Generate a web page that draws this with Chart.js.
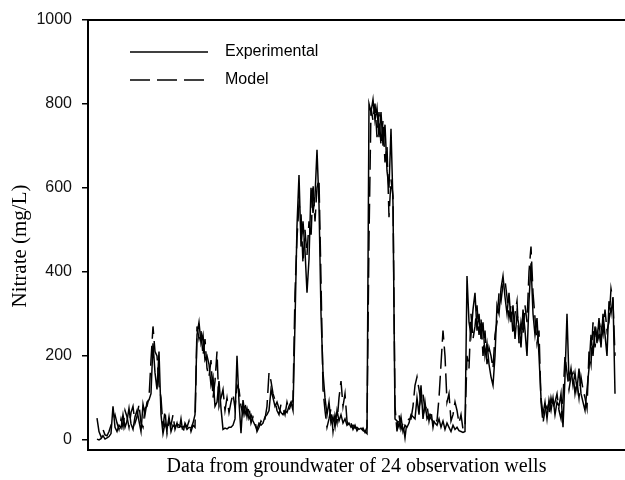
<!DOCTYPE html>
<html>
<head>
<meta charset="utf-8">
<title>Nitrate - experimental vs model</title>
<script src="https://cdn.jsdelivr.net/npm/chart.js@4"></script>
<style>
  html, body { margin: 0; padding: 0; background: #fff; }
  #wrap { width: 625px; height: 480px; }
</style>
</head>
<body>
<div id="wrap"><canvas id="nitrateChart" width="625" height="480"></canvas></div>
<script>
// values, one sample per ~2px across the 24 wells
const experimental = [
    2, 0, 3, 10, 2, 5, 8, 15, 80, 30,
    20, 35, 28, 60, 30, 45, 75, 38, 25, 55,
    70, 45, 20, 85, 60, 90, 95, 110, 230, 160,
    120, 210, 60, 15, 40, 25, 55, 20, 35, 30,
    38, 35, 32, 30, 35, 25, 30, 28, 40, 60,
    250, 280, 230, 250, 190, 200, 180, 130, 150, 80,
    90, 140, 75, 25, 28, 26, 30, 30, 35, 50,
    200, 90, 16, 95, 60, 75, 50, 60, 45, 35,
    25, 40, 35, 40, 55, 60, 70, 120, 100, 80,
    90, 75, 65, 60, 70, 65, 80, 90, 70, 280,
    510, 630, 460, 520, 450, 350, 430, 600, 540, 580,
    690, 560, 300, 160, 100, 60, 90, 40, 55, 30,
    70, 45, 60, 40, 50, 35, 40, 30, 35, 28,
    30, 25, 28, 22, 20, 15, 800, 780, 810, 760,
    790, 720, 780, 700, 750, 640, 600, 740, 560, 50,
    45, 30, 55, 20, 35, 30, 40, 60, 55, 50,
    100, 60, 130, 50, 90, 50, 60, 50, 45, 40,
    35, 50, 30, 45, 25, 40, 30, 20, 35, 25,
    30, 22, 20, 18, 20, 390, 280, 250, 310, 350,
    260, 300, 240, 280, 200, 230, 180, 150, 130, 200,
    320, 300, 360, 390, 340, 300, 350, 280, 320, 240,
    300, 270, 220, 310, 260, 200, 330, 420, 300, 250,
    290, 200, 100, 60, 90, 50, 95, 70, 100, 60,
    90, 80, 110, 30, 150, 300, 140, 170, 130, 160,
    120, 170, 110, 90, 70, 120, 170, 250, 200, 270,
    230, 290, 220, 300, 250, 200, 330, 300, 340, 110
];
const model = [
    52, 20, 8, 25, 12, 10, 20, 35, 45, 60,
    40, 25, 50, 30, 70, 55, 30, 65, 80, 40,
    55, 85, 40, 30, 75, 80, 100, 190, 270, 210,
    200, 130, 100, 30, 70, 15, 45, 35, 60, 25,
    40, 20, 50, 15, 40, 30, 45, 20, 35, 30,
    270, 240, 260, 200, 240, 170, 150, 190, 100, 140,
    210, 80, 100, 120, 70, 100, 65, 90, 110, 75,
    130, 120, 80, 60, 90, 55, 80, 40, 55, 45,
    20, 30, 45, 38, 50, 80, 160, 140, 110, 95,
    70, 60, 85, 75, 60, 90, 70, 85, 95, 350,
    480, 560, 540, 420, 500, 440, 520, 480, 610, 520,
    600, 620, 380, 120, 70, 30, 50, 75, 20, 60,
    40, 100, 140, 80, 110, 45, 30, 40, 25, 35,
    22, 30, 20, 28, 18, 30, 480, 790, 760, 800,
    720, 780, 700, 760, 660, 700, 530, 620, 580, 80,
    20, 60, 25, 40, 5, 45, 50, 50, 80, 130,
    150, 120, 90, 110, 70, 85, 45, 70, 30, 55,
    45, 100, 180, 260, 200, 90, 110, 45, 60, 90,
    70, 40, 60, 25, 30, 200, 170, 300, 240, 270,
    320, 250, 290, 200, 260, 180, 220, 200, 170, 250,
    280, 350, 330, 370, 380, 340, 290, 320, 250, 300,
    330, 230, 280, 250, 320, 280, 400, 460, 350, 290,
    230, 260, 90, 40, 70, 80, 60, 100, 75, 90,
    110, 70, 50, 100, 200, 160, 120, 150, 160, 110,
    140, 100, 150, 120, 100, 75, 210, 180, 280, 220,
    260, 240, 270, 250, 310, 260, 280, 360, 330, 200
];
const yTicks = [0, 200, 400, 600, 800, 1000];
const seriesNames = ['Experimental', 'Model'];
const xTitle = 'Data from groundwater of 24 observation wells';
const yTitle = 'Nitrate (mg/L)';

const serif = "'Liberation Serif', 'Times New Roman', serif";
const sans = "'Liberation Sans', Arial, sans-serif";

function toPoints(values) {
    return values.map((v, i) => ({ x: i + 1, y: v }));
}

// legend drawn inside the plot, top-left, like the original figure
const insideLegend = {
    id: 'insideLegend',
    afterDatasetsDraw(chart) {
        const ctx = chart.ctx;
        const rows = [52, 80];
        chart.data.datasets.forEach((ds, k) => {
            const y = rows[k];
            ctx.save();
            ctx.strokeStyle = ds.borderColor;
            ctx.lineWidth = 1.5;
            ctx.setLineDash(ds.borderDash || []);
            ctx.beginPath();
            ctx.moveTo(130, y);
            ctx.lineTo(208, y);
            ctx.stroke();
            ctx.setLineDash([]);
            ctx.fillStyle = '#000';
            ctx.font = '16px ' + sans;
            ctx.textBaseline = 'middle';
            ctx.fillText(ds.label, 225, y);
            ctx.restore();
        });
    }
};

// y title placed by hand, it sits a bit below the axis centre in the original
const sideTitle = {
    id: 'sideTitle',
    afterDraw(chart) {
        const ctx = chart.ctx;
        ctx.save();
        ctx.translate(20, 246);
        ctx.rotate(-Math.PI / 2);
        ctx.fillStyle = '#000';
        ctx.font = '21px ' + serif;
        ctx.textAlign = 'center';
        ctx.textBaseline = 'middle';
        ctx.fillText(yTitle, 0, 0);
        ctx.restore();
    }
};

new Chart(document.getElementById('nitrateChart'), {
    type: 'line',
    data: {
        datasets: [
            {
                label: seriesNames[0],
                data: toPoints(experimental),
                borderColor: '#000',
                borderWidth: 1.5,
                pointRadius: 0,
                tension: 0,
                fill: false
            },
            {
                label: seriesNames[1],
                data: toPoints(model),
                borderColor: '#000',
                borderWidth: 1.5,
                borderDash: [20, 7],
                pointRadius: 0,
                tension: 0,
                fill: false
            }
        ]
    },
    options: {
        responsive: false,
        animation: false,
        layout: { padding: { top: 17, left: 0, right: 0, bottom: 0 } },
        plugins: {
            legend: { display: false },
            tooltip: { enabled: false }
        },
        scales: {
            x: {
                type: 'linear',
                min: -3.5,
                max: 265,
                ticks: { display: false },
                grid: { display: false },
                border: { display: true, color: '#000', width: 2 },
                title: {
                    display: true,
                    text: xTitle,
                    color: '#000',
                    font: { family: serif, size: 20 },
                    padding: { top: 0, bottom: 1 }
                },
                afterFit: s => { s.height = 30; }
            },
            xTop: {
                type: 'linear',
                position: 'top',
                min: -3.5,
                max: 265,
                ticks: { display: false },
                grid: { display: false },
                border: { display: true, color: '#000', width: 2 },
                afterFit: s => { s.height = 0; }
            },
            y: {
                min: -24,
                max: 1000,
                afterBuildTicks: s => { s.ticks = yTicks.map(v => ({ value: v })); },
                ticks: {
                    color: '#111',
                    font: { family: sans, size: 16 },
                    padding: 10,
                    callback: v => String(v)
                },
                grid: {
                    drawOnChartArea: false,
                    drawTicks: true,
                    tickLength: 6,
                    color: '#000',
                    lineWidth: 1.5
                },
                border: { display: true, color: '#000', width: 2 },
                afterFit: s => { s.width = 88; }
            }
        }
    },
    plugins: [insideLegend, sideTitle]
});
</script>
</body>
</html>
